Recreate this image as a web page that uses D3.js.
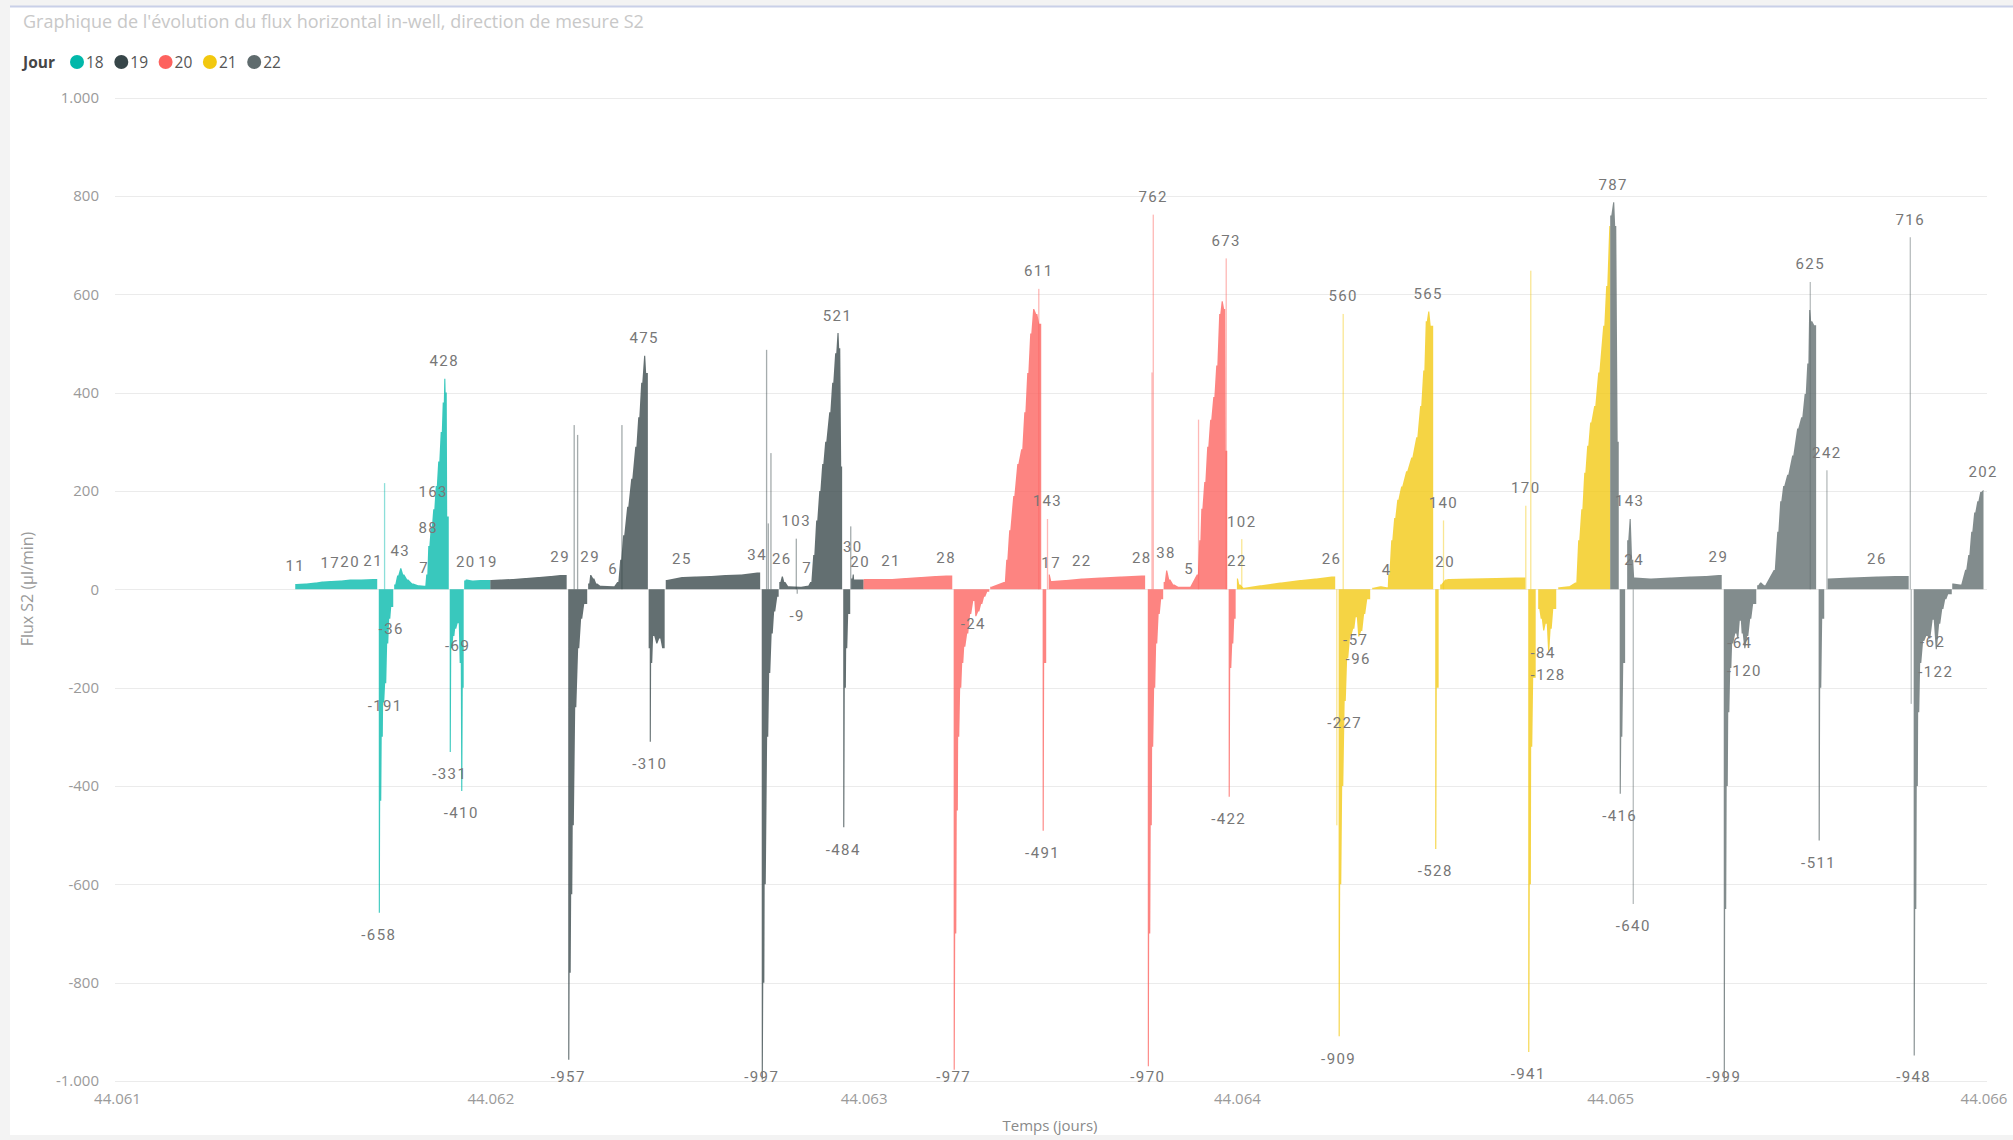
<!DOCTYPE html>
<html>
<head>
<meta charset="utf-8">
<script src="https://cdn.jsdelivr.net/npm/d3@7"></script>
<style>
  html, body { margin: 0; padding: 0; background: #f3f3f3; }
  svg { display: block; }
</style>
</head>
<body>
<svg id="chart" width="2013" height="1140"></svg>
<script>
// Jours de mesure (août 2020) et couleurs de la légende
const dayNames = ["18", "19", "20", "21", "22"];
const dayColors = ["#01B8AA", "#374649", "#FD625E", "#F2C80F", "#5F6B6D"];
const firstDaySerial = 44061;           // 18/08/2020 en numéro de série de date
const xTickValues = [44061, 44062, 44063, 44064, 44065, 44066];
const yTickValues = [-1000, -800, -600, -400, -200, 0, 200, 400, 600, 800, 1000];

// Relevés : [heure décimale du jour, flux S2 en µl/min]
const flux18 = [
  [11.46, 11], [12.10, 12], [12.74, 14], [13.19, 16], [13.71, 17], [14.35, 18], [14.99, 20],
  [15.64, 20], [16.47, 21], [16.73, 0], [16.83, -658], [16.92, -430], [17.02, -300],
  [17.11, -230], [17.24, -191], [17.37, -110], [17.50, -60], [17.63, -36], [17.76, 0],
  [17.82, 10], [18.01, 28], [18.21, 43], [18.40, 30], [18.66, 20], [18.98, 12], [19.36, 8],
  [19.75, 7], [19.88, 30], [20.01, 88], [20.17, 125], [20.33, 163], [20.49, 210], [20.65, 260],
  [20.81, 320], [20.94, 380], [21.04, 428], [21.13, 400], [21.23, 148], [21.33, 0],
  [21.39, -331], [21.49, -120], [21.62, -95], [21.74, -80], [21.90, -69], [22.03, -150],
  [22.13, -410], [22.23, -200], [22.29, 0], [22.32, 18], [22.43, 20], [22.84, 18],
  [23.36, 19], [23.86, 19]
];
const pulses18 = [[17.20, 216]];
const labels18 = [11.46, 13.71, 14.99, 16.47, 16.83, 17.24, 17.63, 18.21, 19.75, 20.01, 20.33,
  21.04, 21.39, 21.90, 22.13, 22.43, 23.86];

const flux19 = [
  [0.00, 19], [0.64, 20], [1.41, 21], [2.24, 23], [3.08, 25], [3.85, 27], [4.49, 29], [4.91, 0],
  [5.01, -957], [5.10, -780], [5.20, -620], [5.30, -480], [5.46, -240], [5.65, -120],
  [5.84, -60], [6.04, -30], [6.23, 0], [6.29, 12], [6.42, 29], [6.62, 22], [6.81, 12],
  [7.07, 7], [7.90, 6], [8.16, 15], [8.35, 60], [8.54, 110], [8.80, 168], [9.06, 225],
  [9.32, 290], [9.51, 350], [9.70, 420], [9.89, 475], [10.02, 440], [10.13, 0],
  [10.18, -120], [10.25, -310], [10.34, -150], [10.47, -95], [10.67, -110], [10.86, -100],
  [11.05, -120], [11.21, 0], [11.28, 19], [12.32, 25], [13.17, 26], [14.14, 27], [15.10, 29],
  [16.07, 30], [17.16, 34], [17.35, 0], [17.45, -997], [17.55, -800], [17.64, -600],
  [17.80, -300], [17.93, -170], [18.09, -90], [18.25, -45], [18.45, -15], [18.54, 0],
  [18.58, 15], [18.74, 26], [18.90, 15], [19.15, 6], [19.92, 5], [20.37, 7], [20.57, 15],
  [20.76, 70], [20.95, 140], [21.15, 200], [21.34, 255], [21.53, 300], [21.79, 360],
  [21.98, 420], [22.17, 480], [22.32, 521], [22.43, 490], [22.56, 250], [22.62, 0],
  [22.69, -484], [22.79, -200], [22.88, -120], [23.01, -50], [23.14, 0], [23.20, 22],
  [23.30, 30], [23.39, 20], [23.78, 20]
];
const pulses19 = [[5.39, 334], [5.61, 314], [8.46, 334], [17.76, 487], [17.87, 134],
  [18.04, 277], [19.67, 103], [19.73, -9], [23.17, 128]];
const labels19 = [4.49, 5.01, 6.42, 7.90, 9.89, 10.25, 12.32, 17.16, 17.45, 18.74, 19.67,
  19.73, 20.37, 22.32, 22.69, 23.30, 23.78];

const flux20 = [
  [0.00, 21], [1.77, 21], [2.67, 23], [3.64, 25], [4.60, 27], [5.31, 28], [5.70, 0],
  [5.79, -977], [5.89, -700], [5.99, -450], [6.08, -300], [6.21, -200], [6.34, -150],
  [6.47, -117], [6.66, -90], [6.85, -50], [7.05, -24], [7.18, -55], [7.37, -45], [7.56, -30],
  [7.75, -15], [7.95, -5], [8.08, 0], [8.14, 5], [9.01, 15], [9.17, 60], [9.36, 120],
  [9.62, 190], [9.88, 255], [10.13, 285], [10.33, 360], [10.52, 440], [10.71, 520],
  [10.90, 570], [11.10, 560], [11.29, 540], [11.42, 0], [11.51, -491], [11.61, -150],
  [11.74, 0], [11.90, 30], [12.06, 17], [12.96, 19], [14.03, 22], [15.21, 24], [16.50, 26],
  [17.89, 28], [18.10, 0], [18.27, -970], [18.36, -700], [18.46, -480], [18.55, -320],
  [18.68, -200], [18.81, -110], [18.97, -50], [19.13, -20], [19.26, 0], [19.29, 15],
  [19.45, 38], [19.65, 20], [19.91, 10], [20.23, 5], [20.93, 5], [21.42, 30], [21.58, 100],
  [21.71, 164], [21.90, 218], [22.09, 290], [22.28, 345], [22.48, 391], [22.67, 455],
  [22.86, 560], [23.02, 586], [23.18, 570], [23.28, 282], [23.38, 0], [23.47, -422],
  [23.57, -160], [23.70, -110], [23.83, -60], [23.92, 0]
];
const pulses20 = [[11.26, 611], [11.82, 143], [18.54, 441], [18.62, 762], [21.53, 345],
  [23.31, 673]];
const labels20 = [1.77, 5.31, 5.79, 7.05, 11.26, 11.51, 11.82, 12.06, 14.03, 17.89, 18.27,
  18.62, 19.45, 20.93, 23.31, 23.47];

const flux21 = [
  [0.00, 22], [0.15, 10], [0.41, 3], [1.50, 8], [2.78, 14], [4.07, 19], [5.03, 22],
  [6.09, 26], [6.32, 0], [6.54, -909], [6.64, -600], [6.77, -400], [6.93, -227],
  [7.09, -140], [7.28, -95], [7.48, -80], [7.64, -57], [7.80, -96], [7.99, -85], [8.18, -50],
  [8.38, -20], [8.57, 0], [8.70, 3], [9.21, 6], [9.63, 4], [9.73, 30], [9.92, 100],
  [10.11, 145], [10.31, 182], [10.56, 209], [10.88, 240], [11.21, 268], [11.53, 309],
  [11.78, 373], [11.98, 445], [12.14, 545], [12.30, 565], [12.46, 536], [12.62, 0],
  [12.75, -528], [12.85, -200], [12.97, 0], [13.07, 10], [13.39, 20], [13.59, 21],
  [15.00, 22], [16.61, 23], [17.89, 24], [18.54, 0], [18.73, -941], [18.83, -600],
  [18.92, -320], [19.05, -180], [19.21, 0], [19.37, -40], [19.53, -60], [19.69, -84],
  [19.85, -70], [20.01, -128], [20.17, -80], [20.34, -40], [20.53, 0], [20.66, 4],
  [21.30, 6], [21.75, 14], [21.94, 100], [22.14, 163], [22.33, 237], [22.52, 292],
  [22.71, 339], [22.97, 373], [23.23, 441], [23.55, 536], [23.74, 617], [23.94, 739]
];
const pulses21 = [[0.31, 102], [6.42, -480], [6.83, 560], [13.28, 140], [18.57, 170],
  [18.89, 648]];
const labels21 = [0.00, 0.31, 6.09, 6.54, 6.83, 6.93, 7.64, 7.80, 9.63, 12.30, 12.75, 13.28,
  13.39, 18.57, 18.73, 19.69, 20.01];

const flux22 = [
  [0.00, 760], [0.19, 787], [0.32, 739], [0.48, 300], [0.55, 0], [0.61, -416], [0.71, -300],
  [0.84, -150], [0.96, 0], [1.09, 100], [1.25, 143], [1.41, 60], [1.54, 24], [2.57, 22],
  [3.86, 24], [5.14, 26], [6.11, 27], [6.96, 29], [7.17, 0], [7.30, -999], [7.39, -650],
  [7.49, -400], [7.59, -250], [7.72, -160], [7.84, -110], [8.04, -90], [8.17, -100],
  [8.33, -64], [8.45, -90], [8.62, -120], [8.81, -95], [9.00, -60], [9.19, -30], [9.39, 0],
  [9.45, 8], [9.64, 14], [9.90, 8], [10.51, 39], [10.74, 117], [10.93, 179], [11.12, 210],
  [11.38, 233], [11.70, 272], [12.02, 327], [12.28, 350], [12.50, 397], [12.67, 459],
  [12.79, 568], [12.92, 545], [13.12, 537], [13.24, 0], [13.40, -511], [13.50, -200],
  [13.63, -60], [13.76, 0], [13.98, 22], [15.43, 24], [17.15, 26], [18.32, 27], [19.19, 0],
  [19.51, -948], [19.61, -650], [19.71, -400], [19.80, -250], [19.93, -150], [20.12, -105],
  [20.32, -95], [20.51, -100], [20.73, -62], [20.93, -122], [21.15, -70], [21.35, -40],
  [21.54, -20], [21.73, -10], [21.96, 0], [21.99, 12], [22.50, 10], [22.82, 40], [23.02, 70],
  [23.21, 117], [23.40, 156], [23.60, 179], [23.79, 198], [23.98, 202]
];
const pulses22 = [[1.48, -640], [12.86, 625], [13.93, 242], [19.29, 716], [19.35, -233]];
const labels22 = [0.19, 0.61, 1.25, 1.48, 1.54, 6.96, 7.30, 8.33, 8.62, 12.86, 13.40, 13.93,
  17.15, 19.29, 19.51, 20.73, 20.93, 23.98];

const dailyReadings = [flux18, flux19, flux20, flux21, flux22];
const dailyPulses = [pulses18, pulses19, pulses20, pulses21, pulses22];
const dailyLabels = [labels18, labels19, labels20, labels21, labels22];

// ---------- mise en page ----------
const W = 2013, H = 1140;
const plot = { left: 117, right: 1983.5, top: 97.6, bottom: 1081 };
const svg = d3.select("#chart");
const uiFont = "'Open Sans', 'Noto Sans', sans-serif";

const frFormat = d3.formatLocale({ decimal: ",", thousands: ".", grouping: [3], currency: ["", " €"], minus: "-" });
const fmtThousands = frFormat.format(",d");
const fmtValue = frFormat.format("d");

const x = d3.scaleLinear().domain([44061, 44066]).range([plot.left, plot.right]);
const y = d3.scaleLinear().domain([-1000, 1000]).range([plot.bottom, plot.top]);

// carte blanche du visuel
svg.append("rect").attr("x", 10).attr("y", 7).attr("width", W - 10).attr("height", H - 12)
  .attr("fill", "#ffffff");
svg.append("line").attr("x1", 10).attr("x2", W).attr("y1", 6.5).attr("y2", 6.5)
  .attr("stroke", "#c9d0e8").attr("stroke-width", 2);

// titre
svg.append("text").attr("x", 23).attr("y", 28)
  .attr("font-family", uiFont).attr("font-size", 18)
  .attr("fill", "#c8c8c8")
  .text("Graphique de l'évolution du flux horizontal in-well, direction de mesure S2");

// légende
const legend = svg.append("g").attr("transform", "translate(23,62)")
  .attr("font-family", uiFont).attr("font-size", 15.5);
legend.append("text").attr("x", 0).attr("y", 5.5).attr("font-weight", 700).attr("fill", "#454545").text("Jour");
const legendItems = legend.selectAll("g.item").data(dayNames).join("g").attr("class", "item")
  .attr("transform", (d, i) => `translate(${54 + i * 44.3},0)`);
legendItems.append("circle").attr("r", 7).attr("fill", (d, i) => dayColors[i]);
legendItems.append("text").attr("x", 9).attr("y", 5.5).attr("fill", "#555").text(d => d);

// quadrillage horizontal
svg.append("g").selectAll("line").data(yTickValues).join("line")
  .attr("x1", 115).attr("x2", 1987)
  .attr("y1", d => Math.round(y(d)) + 0.5).attr("y2", d => Math.round(y(d)) + 0.5)
  .attr("stroke", "#ebebeb").attr("stroke-width", 1);

// axes
const yAxisG = svg.append("g").attr("transform", "translate(115,0)")
  .call(d3.axisLeft(y).tickValues(yTickValues).tickFormat(fmtThousands).tickSize(0).tickPadding(16));
const xAxisG = svg.append("g").attr("transform", `translate(0,${plot.bottom})`)
  .call(d3.axisBottom(x).tickValues(xTickValues).tickFormat(fmtThousands).tickSize(0).tickPadding(12));
[yAxisG, xAxisG].forEach(g => {
  g.select(".domain").remove();
  g.selectAll("text").attr("font-family", uiFont).attr("font-size", 15).attr("fill", "#9a9a9a");
});

svg.append("text").attr("transform", "translate(33,589) rotate(-90)")
  .attr("text-anchor", "middle").attr("font-family", uiFont)
  .attr("font-size", 16).attr("fill", "#9a9a9a").text("Flux S2 (µl/min)");
svg.append("text").attr("x", 1050).attr("y", 1131).attr("text-anchor", "middle")
  .attr("font-family", uiFont).attr("font-size", 15)
  .attr("fill", "#8a8a8a").text("Temps (jours)");

// ---------- colonnes ----------
const toSerial = (dayIndex, hour) => firstDaySerial + dayIndex + hour / 24;
const columnWidth = x.invert(plot.left + 1.1) - x.invert(plot.left);   // ~1 px in days

// Les relevés consécutifs de même signe forment un bloc de colonnes contiguës ;
// chaque relevé occupe au moins une colonne, le dernier s'étend jusqu'au relevé suivant.
const blocks = [];
const pulseMarks = [];
const labelMarks = [];
dailyReadings.forEach((rows, di) => {
  let current = null;
  rows.forEach((r, i) => {
    const sign = Math.sign(r[1]);
    const t = toSerial(di, r[0]);
    const next = toSerial(di, i < rows.length - 1 ? rows[i + 1][0] : 24);
    if (sign === 0) { current = null; return; }
    if (!current || current.sign !== sign) {
      current = { day: di, sign, pts: [] };
      blocks.push(current);
    }
    current.pts.push({ t, v: r[1] });
    current.pts.push({ t: Math.min(t + columnWidth, next), v: r[1] });
    current.end = next;
  });
  dailyPulses[di].forEach(p => pulseMarks.push({ day: di, t: toSerial(di, p[0]), v: p[1] }));
  dailyLabels[di].forEach(h => {
    const src = rows.find(r => r[0] === h) || dailyPulses[di].find(p => p[0] === h);
    if (src) labelMarks.push({ t: toSerial(di, h), v: src[1] });
  });
});
blocks.forEach(b => b.pts.push({ t: b.end, v: b.pts[b.pts.length - 1].v }));

const columnArea = d3.area()
  .x(d => x(d.t))
  .y0(y(0))
  .y1(d => y(d.v));

const barsG = svg.append("g");
barsG.selectAll("path.block").data(blocks).join("path").attr("class", "block")
  .attr("d", d => columnArea(d.pts))
  .attr("fill", d => dayColors[d.day])
  .attr("fill-opacity", 0.78);

barsG.selectAll("rect.pulse").data(pulseMarks).join("rect").attr("class", "pulse")
  .attr("x", d => x(d.t) - 0.6)
  .attr("width", 1.3)
  .attr("y", d => y(Math.max(d.v, 0)))
  .attr("height", d => Math.abs(y(d.v) - y(0)))
  .attr("fill", d => dayColors[d.day])
  .attr("fill-opacity", 0.45);

// ---------- étiquettes de données ----------
const labelsG = svg.append("g")
  .attr("font-family", "Roboto, 'DejaVu Sans', sans-serif").attr("font-size", 15)
  .attr("letter-spacing", 1.4).attr("fill", "#777").attr("text-anchor", "middle");
const placed = [];
labelMarks.sort((a, b) => b.t - a.t).forEach(d => {
  const cx = x(d.t);
  let cy = d.v >= 0 ? y(d.v) - 18 : Math.min(y(d.v) + 22, 1077);
  const node = labelsG.append("text").attr("x", cx).text(fmtValue(d.v));
  const w = node.node().getComputedTextLength();
  const h = 13;
  const dir = d.v >= 0 ? -1 : 1;
  let moved = true, guard = 0;
  while (moved && guard++ < 20) {
    moved = false;
    for (const p of placed) {
      if (Math.abs(p.cx - cx) < (p.w + w) / 2 - 2 && Math.abs(p.cy - cy) < h) {
        cy = p.cy + dir * (h + 2);
        moved = true;
      }
    }
  }
  placed.push({ cx, cy, w });
  node.attr("y", cy).attr("dy", "0.36em");
});
</script>
</body>
</html>
